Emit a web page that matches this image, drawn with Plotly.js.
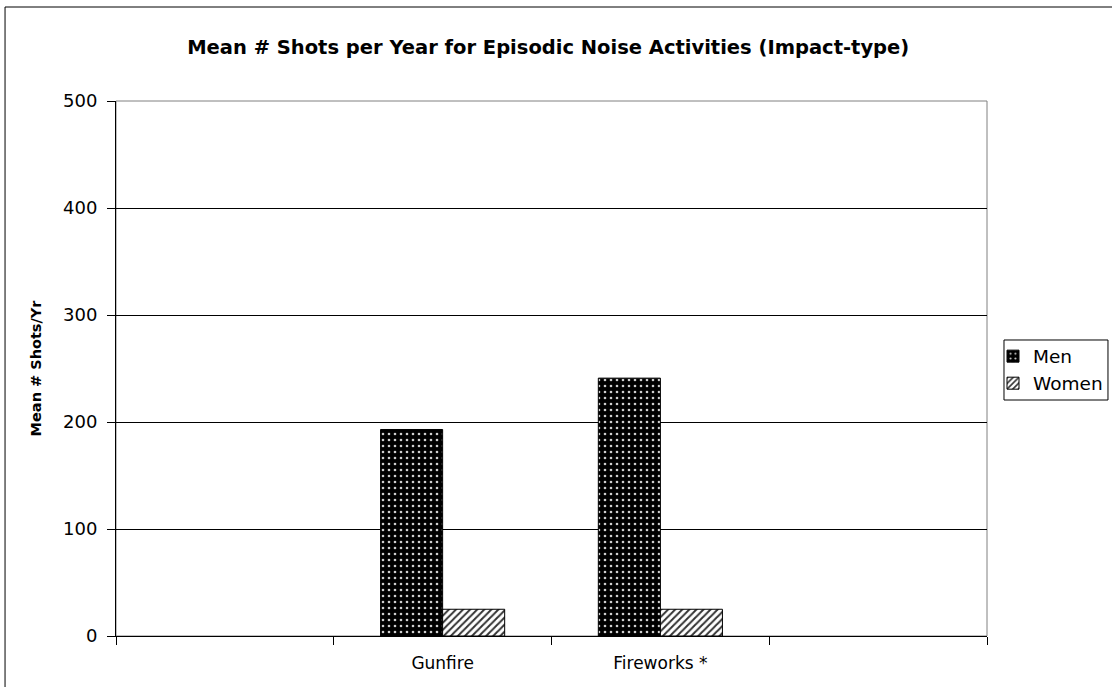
<!DOCTYPE html>
<html>
<head>
<meta charset="utf-8">
<script src="https://cdn.plot.ly/plotly-3.0.1.min.js"></script>
<style>html,body{margin:0;padding:0;background:#fff;}#chart{width:1112px;height:687px;}</style>
</head>
<body>
<div id="chart"></div>
<script>
const categories = [" ", "Gunfire", "Fireworks *", "  "];
const barCategories = ["Gunfire", "Fireworks *"];
const menValues = [193, 241];
const womenValues = [25, 25];
const yTicks = [0, 100, 200, 300, 400, 500];

const FONT = "DejaVu Sans, Liberation Sans, Arial, sans-serif";

const traces = [
  {
    type: "bar", name: "Men", x: barCategories, y: menValues,
    marker: {
      color: "#000",
      line: {color: "#000", width: 1},
      pattern: {shape: ".", bgcolor: "#000", fgcolor: "#cfcfcf", size: 6, solidity: 0.15, fillmode: "replace"}
    }
  },
  {
    type: "bar", name: "Women", x: barCategories, y: womenValues,
    marker: {
      color: "#fff",
      line: {color: "#000", width: 1},
      pattern: {shape: "/", bgcolor: "#fff", fgcolor: "#333", size: 5, solidity: 0.4, fillmode: "replace"}
    }
  }
];

const layout = {
  width: 1112, height: 687,
  margin: {l: 116, r: 125, t: 101, b: 51, autoexpand: false},
  paper_bgcolor: "#fff", plot_bgcolor: "#fff",
  font: {family: FONT, color: "#000", size: 16},
  title: {
    text: "<b>Mean # Shots per Year for Episodic Noise Activities (Impact-type)</b>",
    font: {family: FONT, size: 19.5, color: "#000"},
    x: 0.493, xanchor: "center", y: 0.932, yanchor: "middle"
  },
  barmode: "group",
  bargap: 0.43,
  bargroupgap: 0,
  showlegend: true,
  legend: {
    x: 1.0069, xanchor: "left", y: 0.497, yanchor: "middle",
    borderwidth: 0, bgcolor: "rgba(0,0,0,0)",
    font: {family: FONT, size: 18.5, color: "#000"},
    itemwidth: 30, tracegroupgap: 0
  },
  xaxis: {
    type: "category",
    categoryorder: "array", categoryarray: categories,
    range: [-0.5, 3.5],
    tickson: "boundaries",
    ticks: "outside", ticklen: 8, tickcolor: "#000", tickwidth: 1,
    showline: true, linecolor: "#000", linewidth: 1,
    showgrid: false, zeroline: false,
    tickfont: {family: FONT, size: 17, color: "#000"},
    ticklabelstandoff: 12,
    fixedrange: true
  },
  yaxis: {
    range: [0, 500],
    tickvals: yTicks,
    ticktext: yTicks.map(String),
    ticks: "outside", ticklen: 8, tickcolor: "#000", tickwidth: 1,
    showline: true, linecolor: "#000", linewidth: 1,
    showgrid: true, gridcolor: "#000", gridwidth: 1,
    zeroline: false,
    tickfont: {family: FONT, size: 18, color: "#000"},
    ticklabelstandoff: 6,
    title: {text: "<b>Mean # Shots/Yr</b>", font: {family: FONT, size: 14.5, color: "#000"}, standoff: 17},
    fixedrange: true
  },
  shapes: [
    {type: "rect", xref: "paper", yref: "paper", x0: 0, x1: 1, y0: 0, y1: 1,
     line: {color: "#808080", width: 1}, fillcolor: "rgba(0,0,0,0)", layer: "below"},
    {type: "rect", xref: "paper", yref: "paper", x0: -0.1274, x1: 1.15, y0: -0.1, y1: 1.1757,
     line: {color: "#000", width: 1}, fillcolor: "rgba(0,0,0,0)", layer: "above"},
    {type: "rect", xref: "paper", yref: "paper", x0: 1.0195, x1: 1.1389, y0: 0.4411, y1: 0.5533,
     line: {color: "#000", width: 1}, fillcolor: "rgba(0,0,0,0)", layer: "above"}
  ]
};

Plotly.newPlot("chart", traces, layout, {displayModeBar: false, staticPlot: true});
</script>
</body>
</html>
